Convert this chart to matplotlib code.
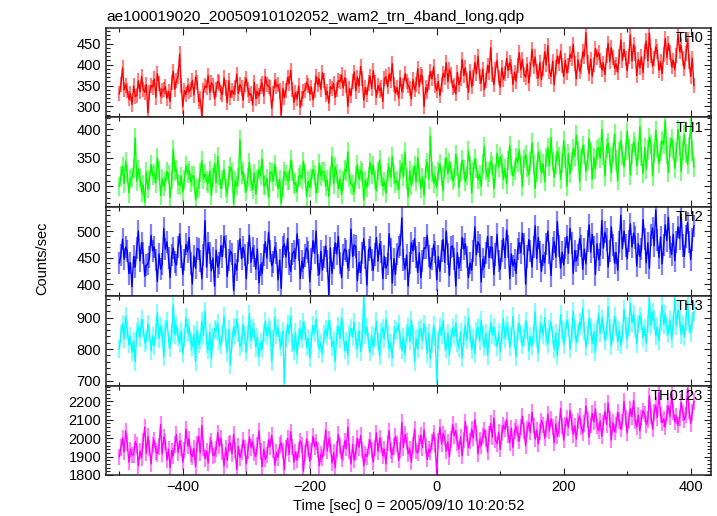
import numpy as np
import matplotlib
matplotlib.use("Agg")
import matplotlib.pyplot as plt
from matplotlib.ticker import MultipleLocator

plt.rcParams['font.family'] = ['Liberation Sans', 'DejaVu Sans']

title = "ae100019020_20050910102052_wam2_trn_4band_long.qdp"
xlabel = "Time [sec] 0 = 2005/09/10 10:20:52"
ylabel = "Counts/sec"
band_names = ["TH0", "TH1", "TH2", "TH3", "TH0123"]
band_colors = ["#ff0000", "#00ff00", "#0000ff", "#00ffff", "#ff00ff"]

# samples at t = -500, -495, ... (step 5 s) and in-between samples at t = -497.5, -492.5, ...
t_start, t_step = -500, 5

th0 = [
    330, 392, 351, 318, 305, 324, 361, 372, 334, 285, 350, 366, 378, 325, 340, 320, 312, 384, 362, 425,
    300, 328, 336, 362, 370, 312, 275, 349, 374, 356, 318, 360, 334, 368, 309, 322, 330, 377, 352, 315,
    366, 327, 304, 319, 325, 355, 371, 348, 296, 362, 352, 280, 321, 369, 386, 310, 318, 298, 335, 357,
    330, 316, 372, 365, 380, 328, 308, 342, 322, 362, 375, 368, 300, 326, 382, 370, 395, 315, 328, 372,
    385, 322, 338, 312, 371, 377, 402, 332, 320, 336, 378, 350, 318, 340, 390, 376, 300, 335, 383, 395,
    338, 326, 378, 404, 388, 345, 330, 352, 412, 392, 334, 347, 405, 420, 356, 340, 398, 440, 352, 410,
    346, 365, 415, 404, 352, 360, 428, 412, 370, 356, 436, 418, 368, 364, 430, 445, 372, 352, 420, 432,
    371, 380, 425, 448, 366, 384, 430, 476, 378, 372, 438, 428, 388, 376, 450, 440, 392, 382, 458, 436,
    385, 470, 448, 374, 392, 380, 456, 475, 396, 442, 386, 378, 462, 450, 395, 388, 472, 445, 390, 460,
    372, 350,
]
th0_mid = [
    352, 340, 338, 331, 349, 326, 335, 341, 352, 334, 346, 322, 355, 339, 347, 336, 358, 341, 372, 350,
    338, 349, 341, 327, 358, 318, 337, 345, 333, 351, 340, 356, 329, 344, 362, 338, 346, 331, 344, 353,
    341, 330, 358, 336, 348, 325, 352, 344, 330, 348, 337, 343, 339, 355, 341, 333, 349, 320, 339, 351,
    346, 338, 352, 341, 362, 336, 347, 355, 340, 359, 344, 351, 342, 360, 337, 349, 366, 345, 356, 343,
    358, 350, 344, 366, 347, 361, 352, 345, 368, 351, 359, 343, 364, 352, 347, 371, 345, 358, 366, 351,
    360, 352, 370, 359, 375, 351, 381, 366, 374, 362, 384, 368, 378, 371, 389, 362, 381, 376, 388, 369,
    392, 378, 386, 395, 382, 398, 387, 376, 401, 389, 396, 384, 405, 391, 399, 384, 408, 393, 402, 397,
    410, 398, 415, 402, 411, 396, 420, 404, 413, 400, 418, 409, 403, 422, 407, 416, 401, 419, 410, 414,
    420, 408, 426, 412, 418, 430, 409, 421, 415, 432, 406, 424, 417, 428, 410, 422, 431, 414, 426, 408,
    415,
]
th1 = [
    300, 335, 344, 288, 315, 385, 330, 290, 272, 296, 338, 322, 350, 284, 300, 326, 280, 365, 330, 302,
    290, 336, 328, 318, 276, 298, 345, 322, 305, 284, 340, 352, 296, 330, 288, 334, 270, 301, 382, 326,
    292, 342, 294, 286, 330, 348, 302, 280, 324, 338, 296, 270, 326, 310, 346, 304, 290, 320, 344, 282,
    298, 330, 288, 340, 326, 300, 282, 352, 334, 296, 286, 330, 360, 304, 290, 338, 328, 276, 298, 342,
    336, 292, 346, 300, 288, 334, 352, 306, 294, 340, 360, 282, 302, 336, 350, 296, 284, 342, 388, 306,
    298, 340, 292, 350, 342, 310, 356, 298, 346, 308, 362, 288, 348, 312, 300, 370, 316, 344, 296, 358,
    352, 312, 304, 372, 318, 350, 364, 300, 356, 320, 376, 296, 360, 322, 308, 368, 386, 316, 362, 312,
    380, 300, 322, 366, 390, 308, 372, 326, 384, 312, 330, 368, 400, 318, 376, 324, 392, 310, 380, 334,
    396, 320, 378, 336, 405, 322, 330, 386, 318, 398, 340, 380, 415, 324, 384, 332, 400, 326, 390, 338,
    408, 334,
]
th1_mid = [
    318, 305, 322, 314, 331, 309, 316, 302, 325, 311, 319, 306, 328, 313, 308, 321, 312, 326, 304, 317,
    311, 323, 307, 318, 296, 324, 313, 309, 327, 315, 306, 320, 312, 298, 318, 326, 310, 315, 321, 305,
    316, 308, 323, 312, 319, 301, 314, 325, 309, 317, 312, 298, 320, 311, 327, 306, 316, 313, 322, 309,
    314, 320, 306, 318, 325, 311, 317, 304, 322, 313, 309, 326, 315, 302, 319, 312, 324, 310, 317, 321,
    312, 326, 318, 308, 324, 315, 321, 310, 329, 317, 313, 327, 319, 308, 323, 316, 331, 312, 325, 318,
    326, 317, 333, 322, 328, 316, 335, 324, 330, 319, 337, 326, 332, 321, 339, 328, 325, 336, 322, 334,
    340, 331, 345, 336, 328, 342, 337, 349, 333, 344, 338, 327, 346, 340, 351, 335, 343, 339, 352, 341,
    350, 358, 344, 353, 362, 348, 356, 345, 360, 351, 364, 349, 355, 368, 352, 359, 346, 361, 355, 363,
    366, 357, 370, 361, 352, 368, 364, 373, 358, 367, 362, 374, 356, 369, 365, 360, 371, 363, 358, 370,
    362,
]
th2 = [
    440, 485, 470, 420, 395, 432, 500, 478, 415, 438, 492, 470, 405, 428, 505, 480, 412, 468, 436, 495,
    418, 475, 488, 400, 430, 466, 410, 520, 478, 425, 396, 432, 472, 490, 414, 462, 388, 426, 485, 470,
    410, 492, 468, 428, 402, 420, 480, 498, 435, 470, 408, 392, 476, 486, 424, 462, 495, 410, 430, 468,
    404, 482, 500, 418, 426, 472, 380, 420, 478, 490, 412, 466, 430, 504, 474, 406, 422, 486, 398, 470,
    426, 488, 476, 410, 430, 495, 402, 418, 470, 525, 428, 396, 478, 486, 422, 412, 468, 492, 430, 474,
    408, 424, 484, 500, 416, 472, 396, 430, 488, 476, 412, 426, 508, 480, 404, 432, 490, 470, 418, 494,
    428, 486, 502, 410, 434, 420, 478, 496, 400, 484, 432, 510, 488, 424, 440, 500, 416, 480, 518, 430,
    436, 490, 505, 420, 444, 486, 428, 438, 512, 494, 418, 446, 520, 498, 432, 508, 440, 426, 530, 500,
    448, 514, 496, 434, 452, 522, 440, 430, 506, 540, 450, 438, 512, 526, 456, 444, 508, 532, 452, 516,
    446, 510,
]
th2_mid = [
    455, 447, 462, 440, 452, 468, 444, 458, 436, 451, 463, 445, 457, 438, 466, 449, 455, 442, 470, 452,
    446, 461, 439, 453, 467, 443, 455, 432, 458, 449, 464, 440, 452, 471, 445, 457, 438, 462, 448, 455,
    459, 441, 453, 466, 437, 455, 449, 463, 442, 458, 445, 470, 451, 439, 457, 448, 465, 443, 454, 461,
    447, 458, 436, 462, 451, 444, 468, 449, 457, 440, 455, 463, 446, 452, 471, 441, 458, 450, 464, 445,
    456, 443, 461, 452, 438, 466, 448, 457, 474, 446, 455, 440, 463, 451, 459, 444, 468, 453, 447, 460,
    452, 463, 441, 457, 470, 448, 459, 445, 466, 451, 440, 462, 455, 473, 447, 458, 450, 469, 456, 444,
    462, 450, 471, 457, 446, 466, 459, 475, 452, 463, 470, 448, 461, 455, 476, 458, 467, 451, 472, 460,
    468, 458, 477, 463, 455, 472, 466, 481, 460, 470, 476, 456, 468, 484, 462, 474, 459, 479, 467, 473,
    481, 470, 488, 476, 466, 485, 478, 492, 472, 483, 489, 474, 482, 470, 494, 479, 486, 473, 490, 480,
    484,
]
th3 = [
    800, 880, 905, 815, 790, 760, 870, 895, 820, 880, 795, 810, 915, 872, 775, 890, 805, 940, 875, 820,
    785, 900, 868, 808, 760, 815, 890, 922, 798, 770, 864, 882, 812, 905, 790, 750, 870, 895, 808, 878,
    790, 912, 865, 805, 776, 800, 888, 870, 760, 900, 868, 808, 692, 880, 904, 795, 782, 862, 885, 806,
    772, 875, 895, 800, 785, 862, 890, 808, 760, 874, 900, 796, 780, 866, 885, 802, 792, 965, 870, 790,
    806, 888, 778, 868, 895, 800, 772, 862, 880, 796, 784, 870, 892, 760, 800, 866, 880, 786, 770, 875,
    700, 870, 890, 800, 780, 866, 882, 804, 772, 875, 900, 798, 786, 870, 892, 806, 780, 884, 870, 808,
    790, 896, 875, 806, 905, 776, 882, 812, 890, 794, 810, 918, 788, 880, 900, 816, 886, 800, 780, 910,
    814, 892, 800, 920, 820, 886, 930, 806, 898, 818, 790, 912, 896, 826, 935, 810, 904, 824, 812, 926,
    830, 945, 912, 816, 906, 836, 820, 960, 918, 842, 826, 940, 912, 848, 832, 962, 924, 846, 838, 950,
    852, 918,
]
th3_mid = [
    848, 832, 861, 840, 826, 855, 837, 866, 829, 850, 842, 858, 834, 847, 863, 830, 852, 845, 838, 857,
    836, 852, 824, 847, 861, 830, 843, 818, 854, 839, 858, 826, 848, 835, 862, 829, 845, 853, 821, 844,
    849, 828, 855, 838, 822, 851, 842, 860, 831, 846, 826, 857, 836, 848, 820, 853, 839, 831, 859, 835,
    828, 850, 836, 819, 847, 841, 862, 826, 845, 833, 856, 824, 849, 838, 829, 858, 834, 846, 822, 843,
    837, 826, 853, 832, 848, 820, 844, 857, 829, 839, 851, 825, 846, 834, 860, 827, 842, 850, 818, 838,
    830, 846, 824, 851, 836, 842, 821, 855, 838, 829, 848, 835, 857, 826, 843, 850, 832, 845, 839, 853,
    846, 834, 858, 842, 829, 854, 847, 836, 861, 840, 852, 833, 857, 845, 838, 864, 843, 851, 836, 860,
    856, 868, 847, 862, 851, 873, 858, 845, 869, 855, 864, 850, 876, 859, 867, 852, 871, 860, 849, 874,
    872, 884, 866, 879, 890, 868, 882, 875, 894, 870, 886, 878, 869, 891, 880, 874, 896, 877, 887, 881,
    889,
]
th0123 = [
    1900, 2000, 2040, 1870, 1910, 1980, 1850, 1895, 2060, 2010, 1860, 1990, 1915, 2075, 2005, 1880, 1840, 1905, 2020, 1985,
    1870, 2050, 1995, 1900, 1845, 2010, 2070, 1890, 1865, 1985, 1910, 2030, 2000, 1850, 1880, 1975, 2020, 1830, 1895, 1990,
    1860, 2005, 1980, 1900, 2040, 1845, 1885, 1990, 2015, 1855, 1895, 1975, 1830, 2000, 2035, 1870, 1880, 1985, 1820, 1995,
    1875, 2010, 1980, 1850, 1895, 2045, 1995, 1865, 1840, 2020, 1890, 1985, 2060, 1860, 1880, 2000, 2015, 1850, 1900, 1990,
    1870, 2030, 2000, 1905, 1860, 2040, 1910, 2010, 1880, 2085, 2020, 1915, 1870, 2050, 1920, 2015, 2045, 1885, 1925, 2030,
    1810, 2060, 2025, 1930, 1900, 2075, 2040, 1940, 1905, 2090, 1950, 2050, 2100, 1915, 1960, 2045, 1925, 2080, 2110, 1970,
    1940, 2070, 2100, 1975, 1950, 2060, 1985, 2120, 1960, 2085, 2140, 1995, 1970, 2095, 2000, 2130, 2105, 1975, 2010, 2160,
    1990, 2110, 2150, 2020, 1995, 2120, 2030, 2175, 2005, 2135, 2160, 2040, 2010, 2145, 2190, 1990, 2035, 2140, 2050, 2200,
    2030, 2160, 2205, 2060, 2040, 2150, 2075, 2230, 2050, 2180, 2250, 2085, 2060, 2175, 2240, 2090, 2070, 2195, 2100, 2270,
    2080, 2200,
]
th0123_mid = [
    1950, 1925, 1972, 1938, 1910, 1960, 1930, 1985, 1918, 1946, 1962, 1928, 1955, 1915, 1978, 1940, 1932, 1966, 1922, 1948,
    1935, 1958, 1912, 1944, 1970, 1920, 1950, 1932, 1962, 1905, 1941, 1956, 1926, 1948, 1968, 1915, 1936, 1955, 1924, 1945,
    1932, 1950, 1918, 1962, 1928, 1940, 1908, 1955, 1935, 1922, 1960, 1930, 1946, 1912, 1952, 1926, 1938, 1964, 1920, 1943,
    1928, 1955, 1936, 1915, 1948, 1930, 1962, 1922, 1940, 1956, 1918, 1945, 1932, 1966, 1925, 1950, 1938, 1912, 1954, 1935,
    1945, 1928, 1962, 1940, 1975, 1932, 1955, 1968, 1938, 1950, 1982, 1942, 1960, 1930, 1972, 1948, 1958, 1940, 1978, 1962,
    1985, 1968, 2002, 1980, 1994, 2015, 1975, 2008, 1990, 2022, 1985, 2000, 2030, 1992, 2012, 1998, 2025, 2005, 1990, 2032,
    2030, 2048, 2020, 2055, 2038, 2026, 2062, 2040, 2050, 2032, 2068, 2045, 2035, 2072, 2052, 2040, 2060, 2078, 2048, 2065,
    2070, 2058, 2085, 2068, 2092, 2062, 2080, 2098, 2072, 2088, 2066, 2095, 2082, 2074, 2102, 2085, 2070, 2096, 2088, 2108,
    2100, 2118, 2094, 2125, 2108, 2132, 2102, 2120, 2140, 2112, 2128, 2105, 2135, 2118, 2145, 2122, 2110, 2138, 2128, 2150,
    2140,
]
band_errors = [18, 17, 21, 29, 44]

series = [th0, th1, th2, th3, th0123]
series_mid = [th0_mid, th1_mid, th2_mid, th3_mid, th0123_mid]
ylims = [(274, 487), (264, 421), (377, 546), (684, 968), (1800, 2286)]
ymajor = [50, 50, 50, 100, 100]
yminor = [10, 10, 10, 20, 20]

W, H = 717, 516
fig = plt.figure(figsize=(W / 100, H / 100), dpi=100)
left, right, top, bottom = 106 / W, 711 / W, 1 - 28 / H, 1 - 475 / H
ph = (top - bottom) / 5
axes = []
for k in range(5):
    ax = fig.add_axes([left, top - (k + 1) * ph, right - left, ph])
    axes.append(ax)
    main = np.array(series[k], dtype=float)
    mid = np.array(series_mid[k], dtype=float)
    t_main = t_start + t_step * np.arange(len(main))
    t_mid = t_start + t_step / 2 + t_step * np.arange(len(mid))
    t = np.concatenate([t_main, t_mid])
    vals = np.concatenate([main, mid])
    order = np.argsort(t)
    t, vals = t[order], vals[order]
    err = np.full_like(vals, band_errors[k])
    ax.vlines(t, vals - err, vals + err, colors=band_colors[k], alpha=0.5, lw=1.6)
    ax.plot(t, vals, color=band_colors[k], lw=1.0)
    ax.set_xlim(-521, 432)
    ax.set_ylim(*ylims[k])
    ax.xaxis.set_major_locator(MultipleLocator(200))
    ax.xaxis.set_minor_locator(MultipleLocator(100))
    ax.yaxis.set_major_locator(MultipleLocator(ymajor[k]))
    ax.yaxis.set_minor_locator(MultipleLocator(yminor[k]))
    ax.tick_params(which='both', direction='in', top=True, right=True, labelsize=10.5, width=0.8, color='#222222')
    ax.tick_params(which='major', length=5)
    ax.tick_params(which='minor', length=3)
    for s in ax.spines.values():
        s.set_linewidth(1.1)
        s.set_color('#222222')
    if k < 4:
        ax.tick_params(labelbottom=False)
    ax.text(0.987, 0.965, band_names[k], transform=ax.transAxes, ha='right', va='top', fontsize=10.5, color='black')

axes[0].set_title(title, loc='left', fontsize=11.1, pad=5, x=0.0)
axes[-1].set_xlabel(xlabel, fontsize=10.5, labelpad=4)
fig.text(42 / W, 1 - 258 / H, ylabel, rotation=90, ha='center', va='center', fontsize=10.5)

fig.savefig("out.png", dpi=100)
